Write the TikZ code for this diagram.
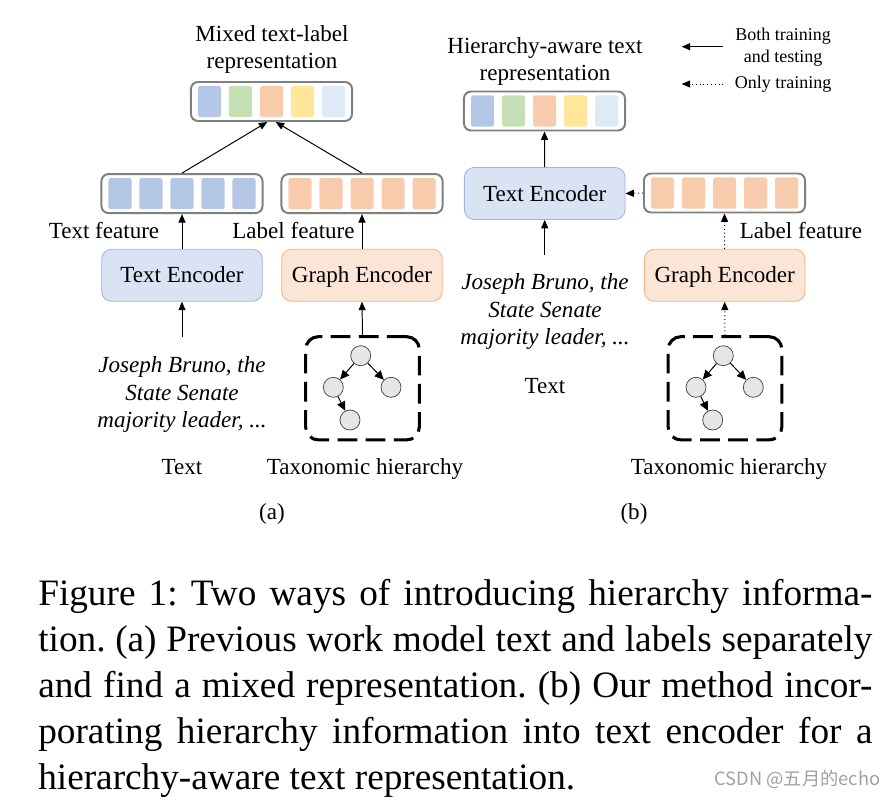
\documentclass[tikz,border=0pt]{standalone}
\usepackage{fontspec}
\setmainfont{Liberation Serif}
\newfontfamily\cjk{Noto Sans CJK SC}
\usepackage{xcolor}
\usetikzlibrary{arrows.meta,calc}

\definecolor{cblue}{HTML}{B4C7E7}
\definecolor{cgreen}{HTML}{C5E0B4}
\definecolor{corange}{HTML}{F8CBAD}
\definecolor{cyellow}{HTML}{FFE699}
\definecolor{clight}{HTML}{DEEBF7}
\definecolor{vgray}{HTML}{7F7F7F}
\definecolor{encblue}{HTML}{DAE3F3}
\definecolor{encblueline}{HTML}{9DB4E0}
\definecolor{encorange}{HTML}{FBE5D6}
\definecolor{encorangeline}{HTML}{F4B183}
\definecolor{tgray}{HTML}{E7E6E6}
\definecolor{markgray}{HTML}{A0A0A0}

\newcommand\capline[1]{\makebox[20.85cm][s]{#1}}
\frenchspacing

\tikzset{
  vecbox/.style={draw=vgray, line width=1.4pt, rounded corners=5pt, minimum width=4.025cm, minimum height=0.975cm, inner sep=0pt},
  cell/.style={rectangle, rounded corners=1.5pt, minimum width=0.575cm, minimum height=0.775cm, inner sep=0pt},
  enc/.style={rounded corners=7pt, line width=0.6pt, minimum width=4.015cm, minimum height=1.3cm, inner sep=0pt, text height=10.8pt, text depth=0pt, font=\fontsize{16.4}{19.5}\selectfont},
  textenc/.style={enc, fill=encblue, draw=encblueline},
  graphenc/.style={enc, fill=encorange, draw=encorangeline},
  taxbox/.style={draw, line width=2.2pt, dash pattern=on 14pt off 6pt, rounded corners=9pt, minimum width=2.84cm, minimum height=2.58cm, inner sep=0pt},
  tnode/.style={circle, draw=black!75, fill=tgray, minimum size=0.5cm, inner sep=0pt, line width=0.5pt},
  arr/.style={-{Triangle[length=6pt,width=5pt]}, line width=0.7pt},
  tarr/.style={-{Triangle[length=6.5pt,width=6pt]}, line width=0.7pt},
  dotarr/.style={arr, dotted},
  lbl/.style={font=\fontsize{16.4}{19.5}\selectfont, inner sep=0pt, align=center},
  quote/.style={font=\fontsize{16.4}{19.9}\selectfont\itshape, inner sep=0pt, align=center},
  legend/.style={font=\fontsize{12.8}{15.6}\selectfont, inner sep=0pt, align=center},
  capt/.style={anchor=base west, inner sep=0pt, font=\fontsize{26.5}{32}\selectfont},
}

\begin{document}
\begin{tikzpicture}[x=0.025cm, y=-0.025cm]
    \useasboundingbox (0,0) rectangle (896,800);

    % (a)
    \node[lbl] (titlea) at (272,49.5) {Mixed text-label\\representation};
    \node[vecbox] (mixa) at (271.5,101.5) {};
    \foreach \c [count=\i] in {cblue,cgreen,corange,cyellow,clight}
        \node[cell, fill=\c] (mixa\i) at ($(mixa)+(\i*31-93,0)$) {};
    \node[vecbox] (tfa) at (182,193.6) {};
    \node[vecbox] (lfa) at (362,193.6) {};
    \foreach \i in {1,...,5} {
        \node[cell, fill=cblue] (tfa\i) at ($(tfa)+(\i*31-93,0)$) {};
        \node[cell, fill=corange] (lfa\i) at ($(lfa)+(\i*31-93,0)$) {};
    }
    \draw[arr] (tfa.north) -- ([xshift=-3pt]mixa.south);
    \draw[arr] (lfa.north) -- ([xshift=3pt]mixa.south);
    \node[lbl] (tfalbl) at (104,230) {Text feature};
    \node[lbl] (lfalbl) at (293.5,230) {Label feature};
    \node[textenc] (tenca) at (182,275.3) {Text Encoder};
    \node[graphenc] (genca) at (362,275.3) {Graph Encoder};
    \draw[arr] (tenca.north) -- (tfa.south);
    \draw[arr] (genca.north) -- (lfa.south);
    \coordinate (qa) at (182,337);
    \draw[arr] (qa) -- (tenca.south);
    \node[quote] (texta) at (182,394.5) {Joseph Bruno, the\\State Senate\\majority leader, ...};
    \node[lbl] (textalbl) at (182,467) {Text};
    \node[taxbox] (taxa) at (362.5,388.3) {};
    \draw[arr] (taxa.north) -- (genca.south);
    \node[tnode] (ra) at (360.7,355.7) {};
    \node[tnode] (la) at (333.3,387.3) {};
    \node[tnode] (rra) at (391,387.3) {};
    \node[tnode] (lla) at (350,420) {};
    \draw[tarr] (ra) -- (la);
    \draw[tarr] (ra) -- (rra);
    \draw[tarr] (la) -- (lla);
    \node[lbl] (taxalbl) at (365,469) {Taxonomic hierarchy};
    \node[lbl] (capa) at (272,514) {(a)};

    % (b)
    \node[lbl] (titleb) at (545,61.5) {Hierarchy-aware text\\representation};
    \node[vecbox] (mixb) at (544.5,111) {};
    \foreach \c [count=\i] in {cblue,cgreen,corange,cyellow,clight}
        \node[cell, fill=\c] (mixb\i) at ($(mixb)+(\i*31-93,0)$) {};
    \node[textenc] (tencb) at (544.7,193.5) {Text Encoder};
    \draw[arr] (tencb.north) -- (mixb.south);
    \node[vecbox] (lfb) at (724.5,193) {};
    \foreach \i in {1,...,5}
        \node[cell, fill=corange] (lfb\i) at ($(lfb)+(\i*31-93,0)$) {};
    \draw[dotarr] (lfb.west) -- (tencb.east);
    \node[lbl] (lfblbl) at (801,230) {Label feature};
    \node[graphenc] (gencb) at (724.7,275.3) {Graph Encoder};
    \draw[dotarr] (gencb.north) -- (lfb.south);
    \coordinate (qb) at (544.7,255);
    \draw[arr] (qb) -- (tencb.south);
    \node[quote] (textb) at (545,311.5) {Joseph Bruno, the\\State Senate\\majority leader, ...};
    \node[lbl] (textblbl) at (545,386) {Text};
    \node[taxbox] (taxb) at (725,388.3) {};
    \draw[dotarr] (taxb.north) -- (gencb.south);
    \node[tnode] (rb) at (723.3,355.7) {};
    \node[tnode] (lb) at (696,387.3) {};
    \node[tnode] (rrb) at (753.3,387.3) {};
    \node[tnode] (llb) at (712.7,420) {};
    \draw[tarr] (rb) -- (lb);
    \draw[tarr] (rb) -- (rrb);
    \draw[tarr] (lb) -- (llb);
    \node[lbl] (taxblbl) at (729,469) {Taxonomic hierarchy};
    \node[lbl] (capb) at (634,514) {(b)};

    % legend
    \coordinate (lg1s) at (723.3,46.7);
    \coordinate (lg1e) at (681.7,46.7);
    \coordinate (lg2s) at (723.3,84);
    \coordinate (lg2e) at (681.7,84);
    \draw[arr] (lg1s) -- (lg1e);
    \draw[dotarr] (lg2s) -- (lg2e);
    \node[legend] (lgboth) at (783,47) {Both training\\and testing};
    \node[legend] (lgonly) at (783,84) {Only training};

    % caption
    \node[capt] (cap1) at (38,605) {\capline{Figure 1: Two ways of introducing hierarchy informa-}};
    \node[capt] (cap2) at (38,651) {\capline{tion. (a) Previous work model text and labels separately}};
    \node[capt] (cap3) at (38,697) {\capline{and find a mixed representation. (b) Our method incor-}};
    \node[capt] (cap4) at (38,743) {\capline{porating hierarchy information into text encoder for a}};
    \node[capt] (cap5) at (38,789) {hierarchy-aware text representation.};
    \node[font=\cjk\fontsize{13}{15}\selectfont, text=markgray, inner sep=0pt] (mark) at (797.5,779) {CSDN @五月的echo};
\end{tikzpicture}
\end{document}
